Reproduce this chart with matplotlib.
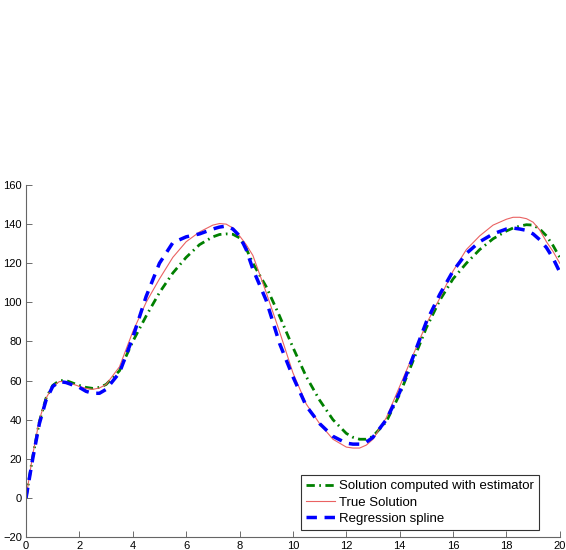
import matplotlib
matplotlib.use("Agg")
import matplotlib.pyplot as plt

plt.rcParams["font.family"] = ["Liberation Sans", "DejaVu Sans"]

# sample positions
x = [0, 0.25, 0.5, 0.75, 1.0, 1.25, 1.5, 2.0, 2.25, 2.5, 2.75, 3.0, 3.5, 4.0,
     4.5, 5.0, 5.5, 6.0, 6.5, 7.0, 7.25, 7.5, 7.75, 8.0, 8.25, 8.5, 9.0, 9.5,
     10.0, 10.5, 11.0, 11.5, 12.0, 12.25, 12.5, 12.75, 13.0, 13.5, 14.0, 14.5,
     15.0, 15.5, 16.0, 16.5, 17.0, 17.5, 18.0, 18.25, 18.5, 18.75, 19.0, 19.25,
     19.5, 19.75, 20.0]

estimator = [0, 21, 39, 51, 57.5, 60, 60, 57.5, 56.5, 56, 56.5, 58, 65, 80,
             93, 105, 115, 123, 129.5, 133.5, 134.7, 135, 134.8, 133, 127.5, 120, 108, 93,
             77, 62, 50, 40, 33, 31, 30, 30, 31.5, 39, 53, 70,
             87, 101, 112, 120, 127, 132.5, 136.5, 138, 139, 139.7, 139.5, 137.5,
             134, 129, 123]

true_sol = [0, 22, 40, 51, 57, 59.5, 59.5, 57, 56, 55.5, 56.2, 58, 67, 85,
            100, 112, 123, 131, 136, 139.5, 140.3, 140, 138, 134, 129.5, 124, 105, 85,
            64, 48, 38, 30, 26, 25.5, 25.5, 27, 30, 41, 57, 73,
            89, 102, 116, 127, 134, 139.5, 142.5, 143.5, 143.5, 142.8, 141, 137,
            131, 126, 120]

spline = [0, 20, 38, 50, 57, 59.5, 59, 56.5, 54.5, 53.5, 53.5, 55.5, 64, 82,
          103, 120, 130.5, 133.5, 135, 137.5, 138.5, 139, 137.5, 134, 127, 117, 101, 79,
          62, 47, 38, 31.5, 28, 27.5, 27.5, 28.5, 31, 40, 54, 72,
          90, 104, 116, 125, 131, 135, 137.5, 138, 137.5, 136.8, 135, 132,
          128, 122.5, 115.5]

fig = plt.figure(figsize=(5.66, 5.5), dpi=100, facecolor="white")
ax = fig.add_axes([0.046, 0.0236, 0.943, 0.64])

ax.plot(x, estimator, color="#008000", lw=2, ls=(0, (3, 1.6, 0.6, 1.6)),
        label="Solution computed with estimator")
ax.plot(x, true_sol, color="#ea6262", lw=0.8, label="True Solution")
ax.plot(x, spline, color="#0000ff", lw=2.5, ls=(0, (3, 2.2)),
        label="Regression spline")

ax.set_xlim(0, 20)
ax.set_ylim(-20, 160)
ax.set_xticks(range(0, 21, 2))
ax.set_yticks(range(-20, 161, 20))
ax.tick_params(direction="in", length=4, width=0.6, labelsize=8, color="#555",
               pad=3)
for side in ["top", "right"]:
    ax.spines[side].set_visible(False)
for side in ["left", "bottom"]:
    ax.spines[side].set_color("#666")
    ax.spines[side].set_linewidth(0.8)

leg = ax.legend(loc="lower right", bbox_to_anchor=(0.962, 0.02), fontsize=9.5,
                fancybox=False, framealpha=1, edgecolor="#333",
                handlelength=2.2, handletextpad=0.3, borderpad=0.4,
                labelspacing=0.3, borderaxespad=0)
leg.get_frame().set_linewidth(0.8)

fig.savefig("out.png", dpi=100, facecolor="white")
